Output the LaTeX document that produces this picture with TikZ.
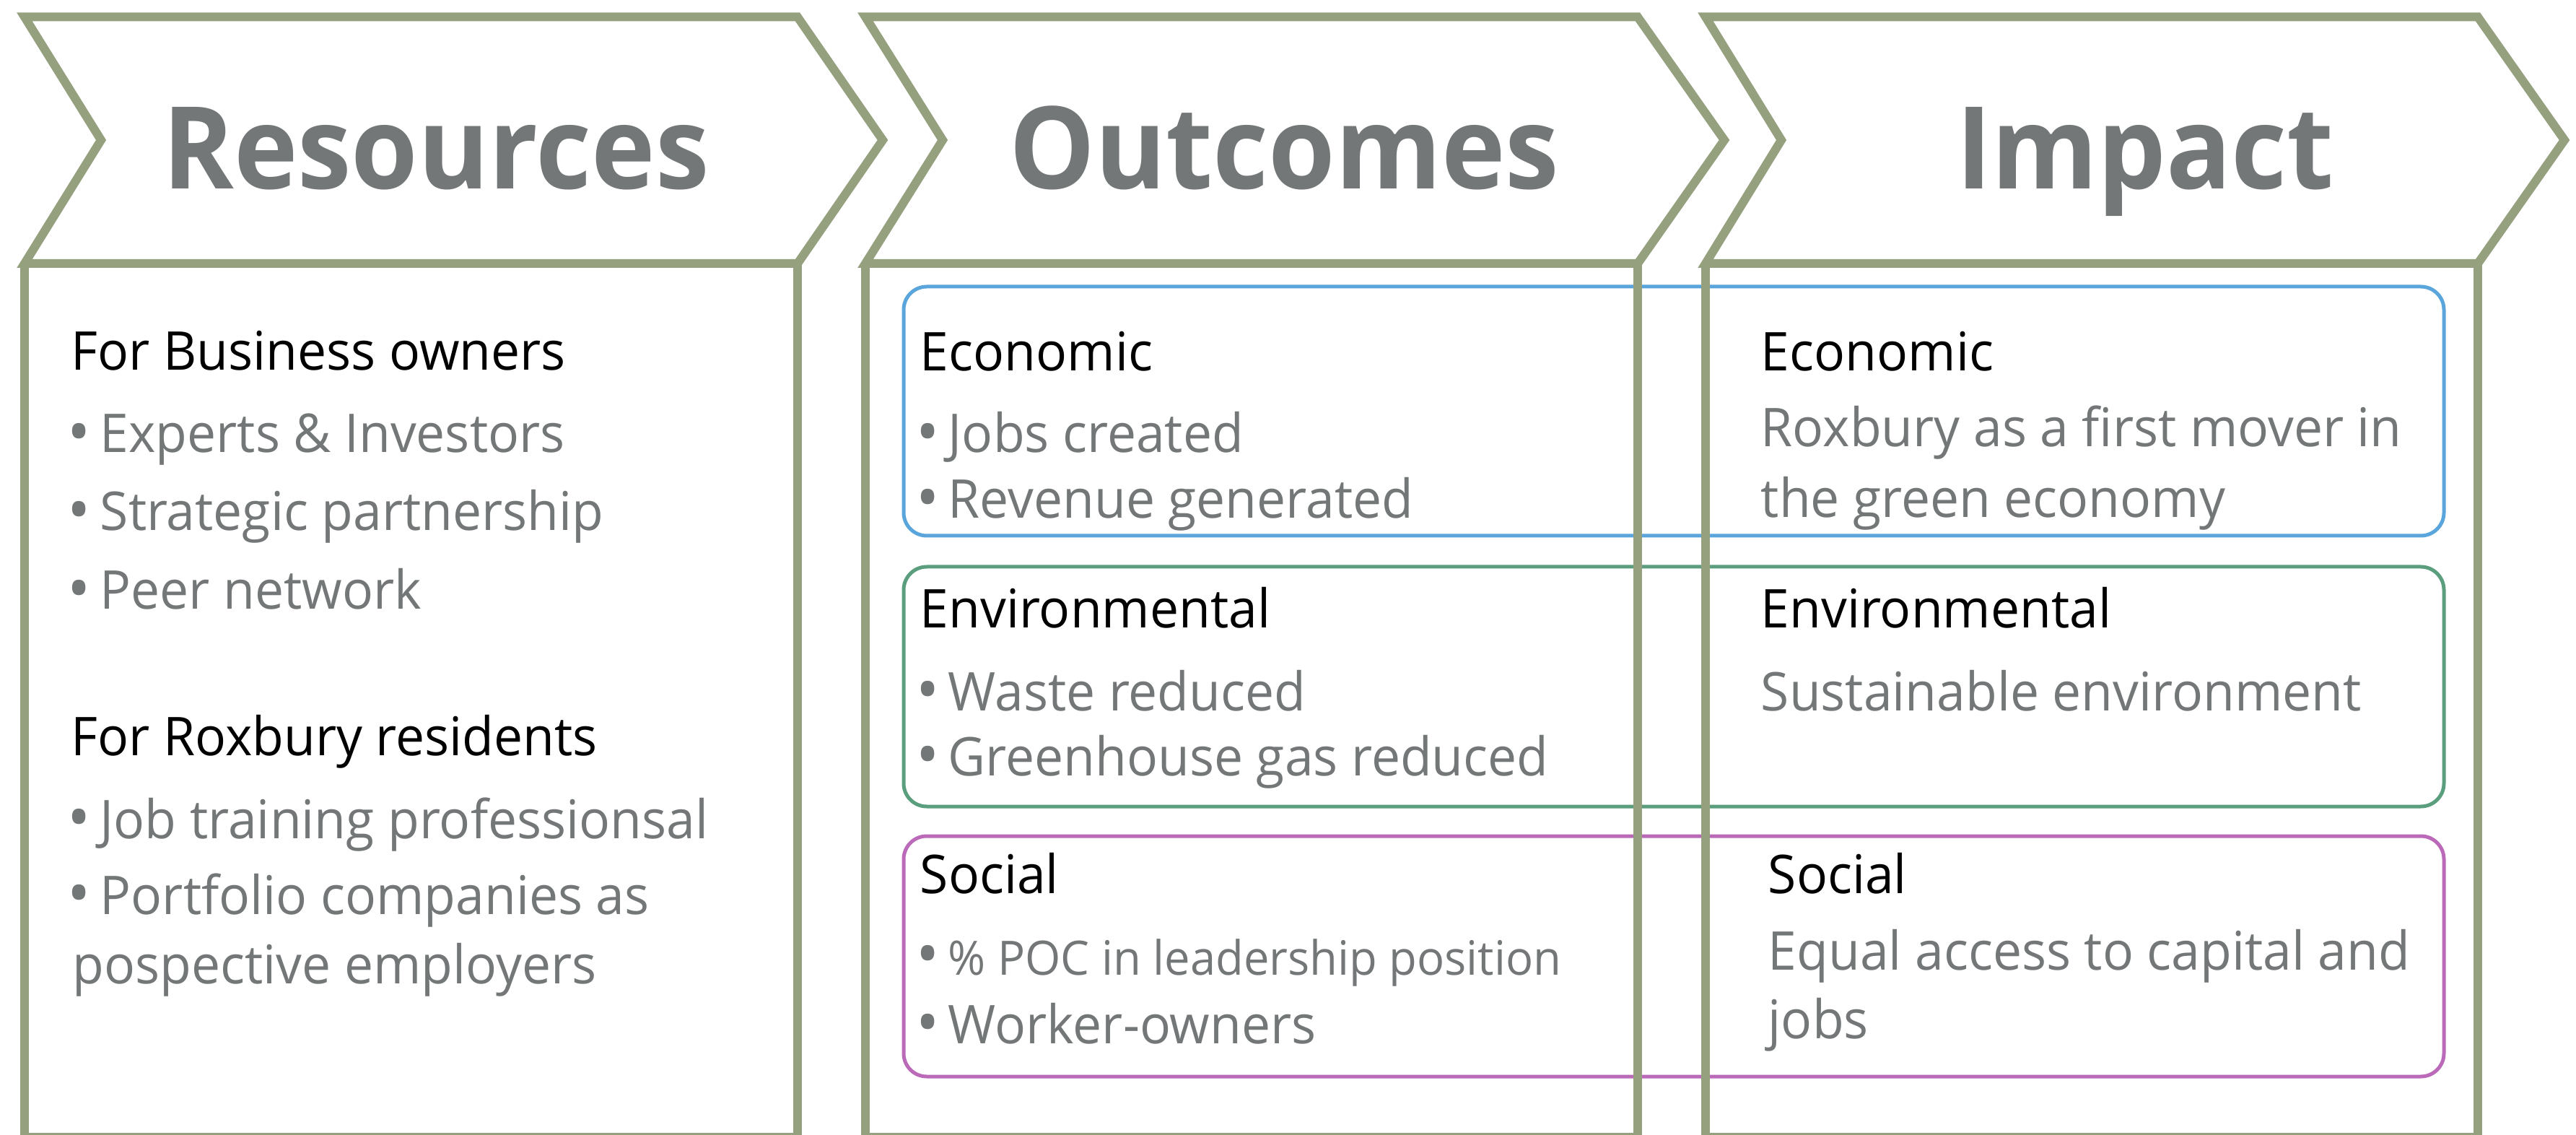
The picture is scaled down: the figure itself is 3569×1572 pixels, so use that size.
\documentclass[tikz,border=0pt]{standalone}
\usepackage{fontspec}
\setmainfont[FakeStretch=0.965]{Open Sans}
\newfontfamily\headfont[FakeStretch=0.945]{Open Sans}
\definecolor{olive}{RGB}{149,160,126}
\definecolor{tgray}{RGB}{115,119,120}
\definecolor{bblue}{RGB}{91,165,221}
\definecolor{bgreen}{RGB}{90,158,126}
\definecolor{bpink}{RGB}{186,106,184}
\newcommand\bu{\makebox[10pt][l]{\hspace{-1.2pt}\raisebox{-0.6pt}{\scalebox{1.2}{\textbullet}}}}
\tikzset{
  colline/.style={draw=olive, line width=3pt, line join=miter},
  head/.style={font=\headfont\bfseries\fontsize{39.6}{44}\selectfont, text=tgray, inner sep=0pt, anchor=base},
  sub/.style={font=\fontsize{18.5}{22}\selectfont, text=black, inner sep=0pt, anchor=base west},
  itm/.style={sub, text=tgray},
  rbox/.style={line width=1.25pt, rounded corners=8pt},
}
\begin{document}
\begin{tikzpicture}[x=0.25pt,y=-0.25pt]
\useasboundingbox (0,0) rectangle (3569,1572);
% rounded category boxes
\draw[rbox, draw=bblue]  (1252,397)  rectangle (3386,742);
\draw[rbox, draw=bgreen] (1252,785)  rectangle (3386,1117);
\draw[rbox, draw=bpink]  (1252,1158) rectangle (3386,1491);
% columns
\draw[colline] (34,365) -- (34,1575) -- (1105,1575) -- (1105,365);
\draw[colline] (1199,365) -- (1199,1575) -- (2269,1575) -- (2269,365);
\draw[colline] (2363,365) -- (2363,1575) -- (3433,1575) -- (3433,365);
% chevrons
\draw[colline, fill=white] (34,23.5) -- (1105,23.5) -- (1223,194) -- (1105,365) -- (34,365) -- (140,194) -- cycle;
\draw[colline, fill=white] (1199,23.5) -- (2269,23.5) -- (2389,194) -- (2269,365) -- (1199,365) -- (1306,194) -- cycle;
\draw[colline, fill=white] (2363,23.5) -- (3433,23.5) -- (3553,194) -- (3433,365) -- (2363,365) -- (2468,194) -- cycle;
% headings
\node[head] (hres) at (604,262) {Resources};
\node[head] (hout) at (1779,262) {Outcomes};
\node[head] (himp) at (2972,262) {Impact};
% column 1
\node[sub] (r1) at (98,513) {For Business owners};
\node[itm] (r2) at (98,627) {\bu Experts \& Investors};
\node[itm] (r3) at (98,735) {\bu Strategic partnership};
\node[itm] (r4) at (98,844) {\bu Peer network};
\node[sub] (r5) at (98,1047) {For Roxbury residents};
\node[itm] (r6) at (98,1161) {\bu Job training professionsal};
\node[itm] (r7) at (98,1266) {\bu Portfolio companies as};
\node[itm] (r8) at (100,1362) {pospective employers};
% column 2
\node[sub] (o1) at (1274,514) {Economic};
\node[itm] (o2) at (1273,627) {\bu Jobs created};
\node[itm] (o3) at (1273,718) {\bu Revenue generated};
\node[sub] (o4) at (1274,870) {Environmental};
\node[itm] (o5) at (1273,984) {\bu Waste reduced};
\node[itm] (o6) at (1273,1074) {\bu Greenhouse gas reduced};
\node[sub] (o7) at (1274,1237) {Social};
\node[itm] (o8) at (1273,1350) {\bu{\fontsize{16.4}{19}\selectfont\% POC in leadership position}};
\node[itm] (o9) at (1273,1445) {\bu Worker-owners};
% column 3
\node[sub] (i1) at (2439,514) {Economic};
\node[itm] (i2) at (2439,619) {Roxbury as a first mover in};
\node[itm] (i3) at (2439,716) {the green economy};
\node[sub] (i4) at (2439,870) {Environmental};
\node[itm] (i5) at (2439,984) {Sustainable environment};
\node[sub] (i6) at (2449,1237) {Social};
\node[itm] (i7) at (2449,1343) {Equal access to capital and};
\node[itm] (i8) at (2449,1438) {jobs};
\end{tikzpicture}
\end{document}
